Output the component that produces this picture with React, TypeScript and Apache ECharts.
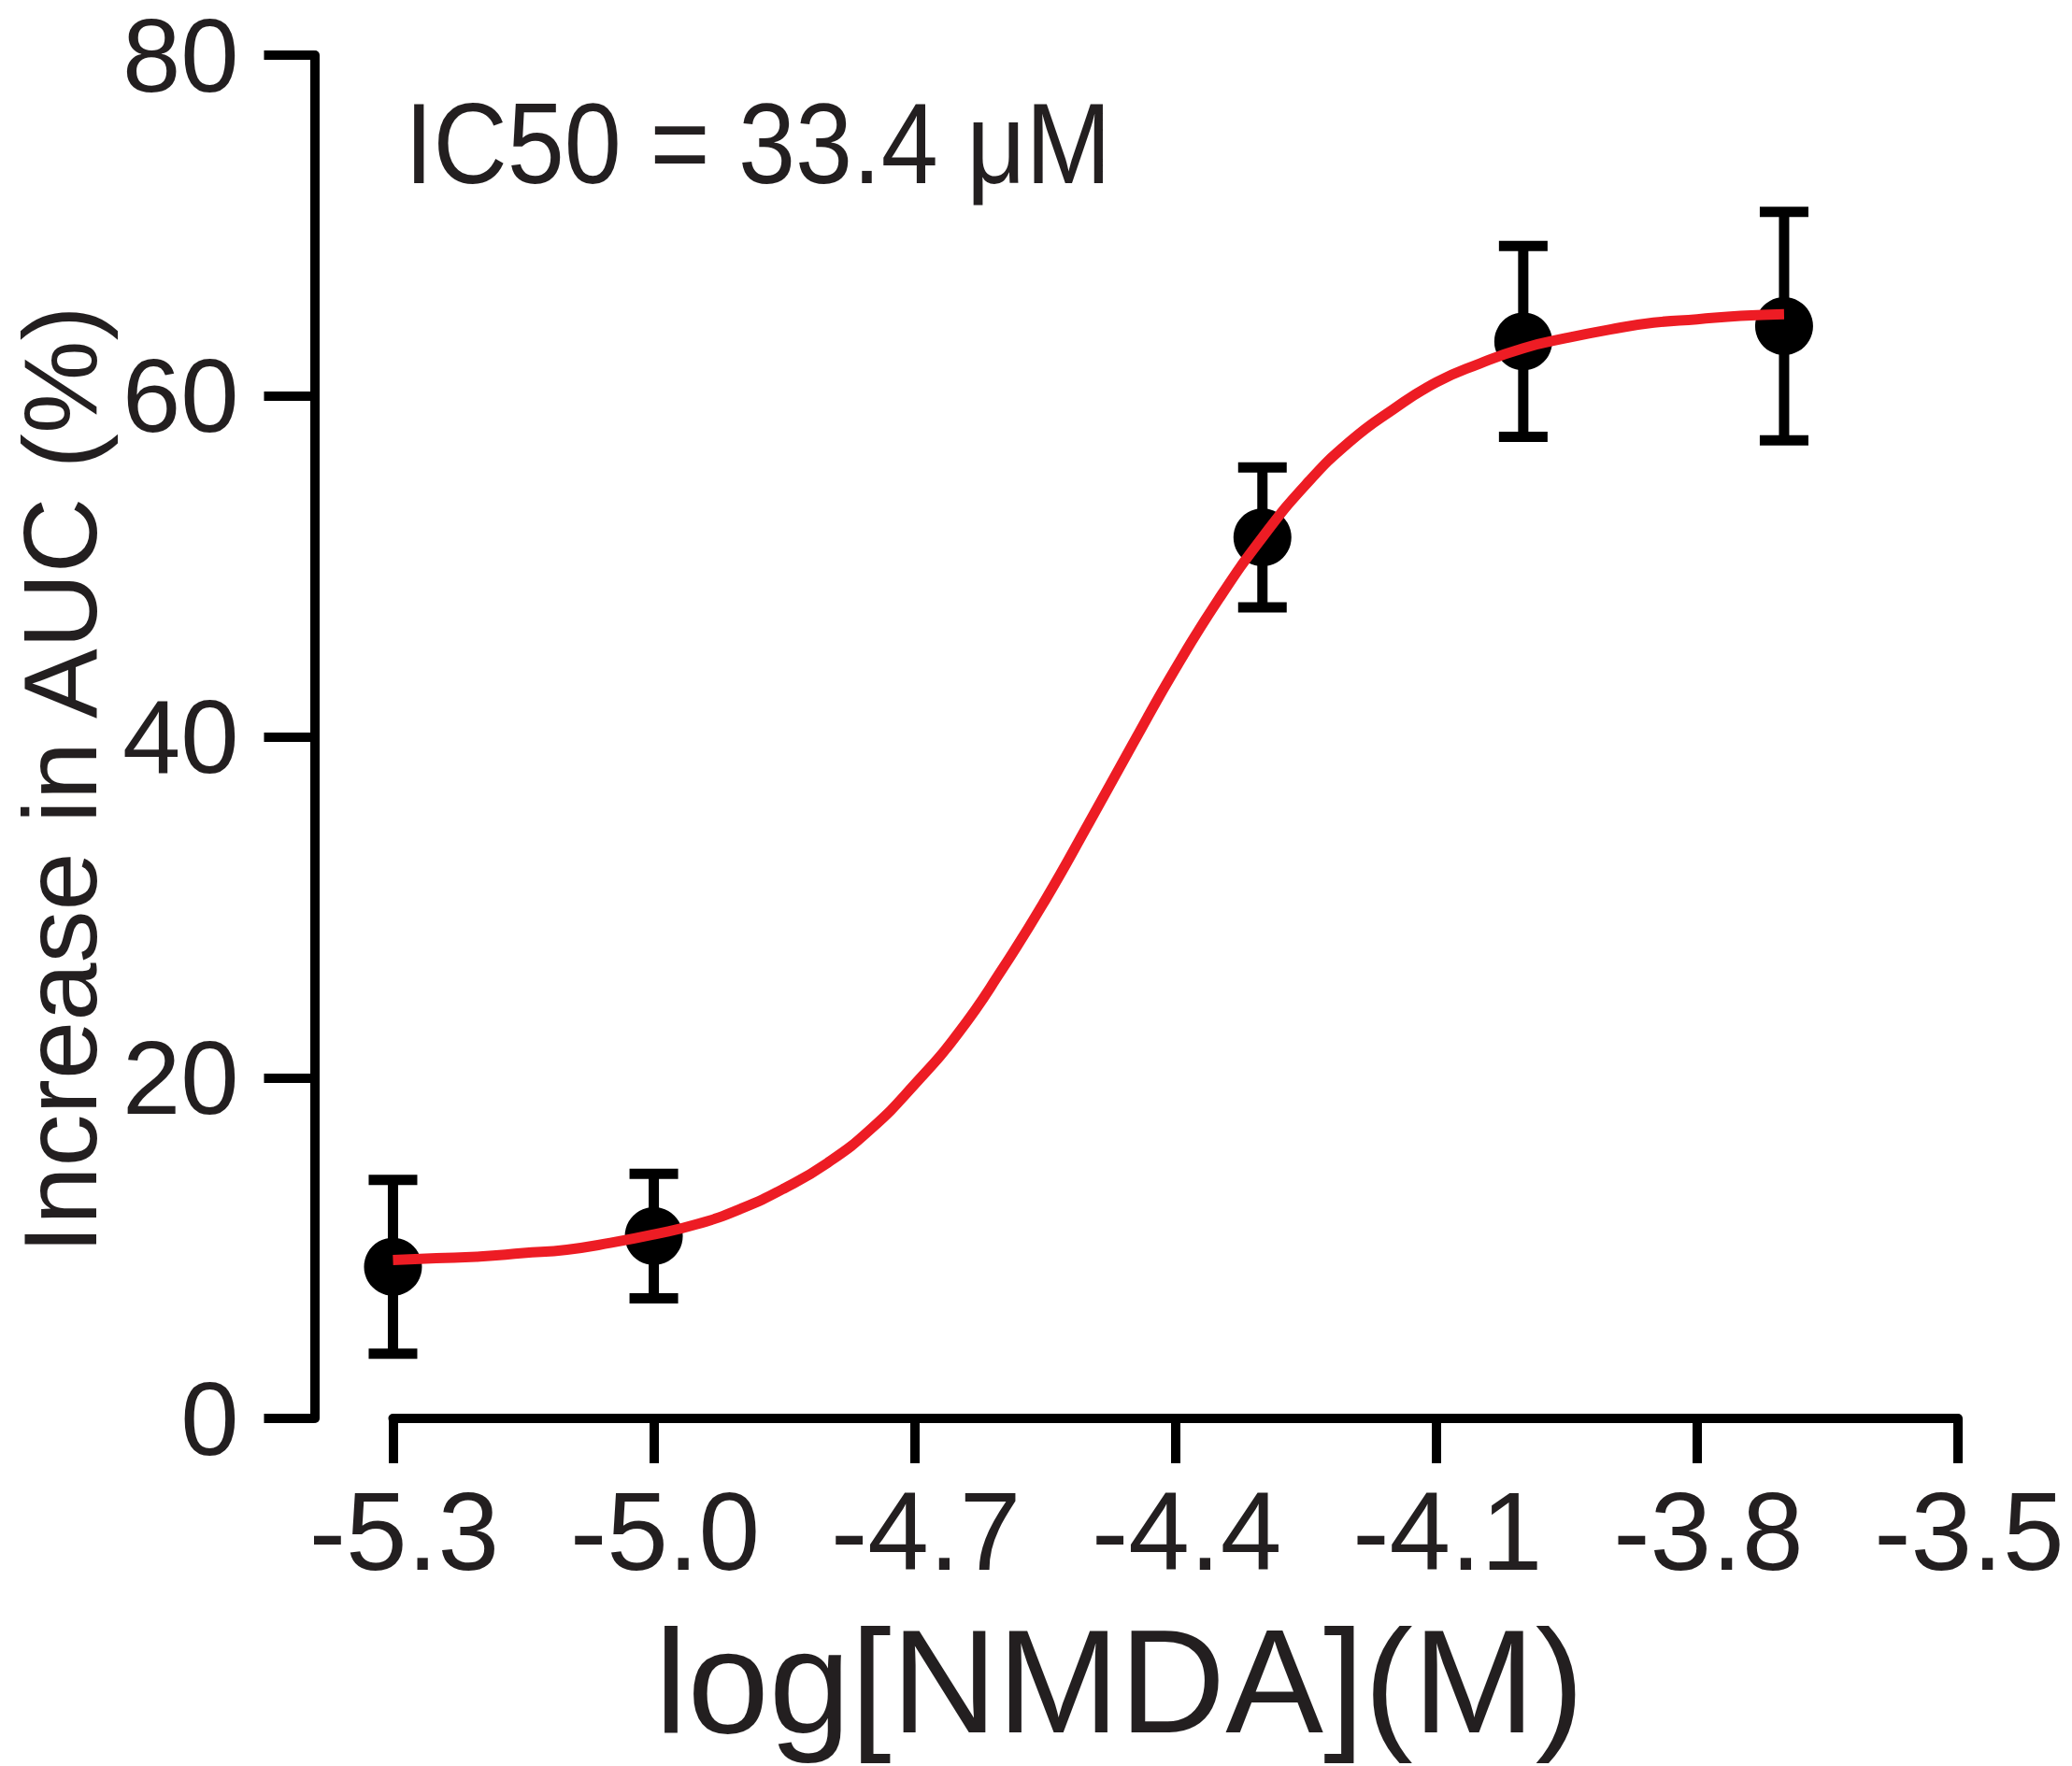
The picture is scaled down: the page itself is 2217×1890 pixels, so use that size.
import React, { useEffect, useRef } from "react";
import * as echarts from "echarts";

// ---- data ----
const xValues = [-5.3, -5.0, -4.3, -4.0, -3.7];
const meanValues = [8.9, 10.7, 51.7, 63.2, 64.1];
const semValues = [5.1, 3.65, 4.1, 5.6, 6.7];

// fitted curve
const curveX = [
  -5.3, -5.25, -5.2, -5.15, -5.1, -5.05, -5.0, -4.95, -4.9, -4.85, -4.8, -4.75, -4.7, -4.65, -4.6, -4.55,
  -4.5, -4.45, -4.4, -4.35, -4.3, -4.25, -4.2, -4.15, -4.1, -4.05, -4.0, -3.95, -3.9, -3.85, -3.8, -3.75, -3.7,
];
const curveY = [
  9.3, 9.4, 9.5, 9.7, 9.9, 10.3, 10.8, 11.4, 12.3, 13.5, 15.0, 17.0, 19.6, 22.6, 26.3, 30.4,
  34.9, 39.5, 44.0, 48.1, 51.7, 54.8, 57.3, 59.2, 60.8, 61.9, 62.8, 63.4, 63.9, 64.3, 64.5, 64.7, 64.8,
];

const xTickLabels = ["-5.3", "-5.0", "-4.7", "-4.4", "-4.1", "-3.8", "-3.5"];
const yTickLabels = ["0", "20", "40", "60", "80"];

const xAxisTitle = "log[NMDA](M)";
const yAxisTitle = "Increase in AUC (%)";
const annotation = "IC50 = 33.4 μM";

const FONT = "'Liberation Sans', Arial, Helvetica, sans-serif";
const TEXT = "#231F20";

export default function App() {
  const ref = useRef<HTMLDivElement>(null);

  useEffect(() => {
    document.body.style.margin = "0";
    if (!ref.current) return;
    const chart = echarts.init(ref.current, null, { renderer: "svg" });

    const errData = xValues.map((x, i) => [x, meanValues[i], semValues[i]]);
    const ptData = xValues.map((x, i) => [x, meanValues[i]]);
    const lineData = curveX.map((x, i) => [x, curveY[i]]);

    const option: any = {
      animation: false,
      backgroundColor: "#ffffff",
      grid: { left: 418, right: 122, top: 52, bottom: 372, containLabel: false },
      xAxis: {
        type: "value",
        min: -5.3,
        max: -3.5,
        interval: 0.3,
        splitLine: { show: false },
        axisLine: { show: true, onZero: false, lineStyle: { color: "#000", width: 10 } },
        axisTick: { show: true, inside: false, length: 48, lineStyle: { color: "#000", width: 10 } },
        axisLabel: {
          margin: 62,
          color: TEXT,
          fontSize: 118,
          fontFamily: FONT,
          padding: [0, 0, 0, 24],
          formatter: (v: number) => {
            const idx = Math.round((v + 5.3) / 0.3);
            return xTickLabels[idx] ?? v.toFixed(1);
          },
        },
        name: xAxisTitle,
        nameLocation: "middle",
        nameGap: 203,
        nameTextStyle: { color: TEXT, fontSize: 157, fontFamily: FONT, padding: [0, 120, 0, 0] },
      },
      yAxis: {
        type: "value",
        min: 0,
        max: 80,
        interval: 20,
        offset: 84,
        splitLine: { show: false },
        axisLine: { show: true, onZero: false, lineStyle: { color: "#000", width: 10 } },
        axisTick: { show: true, inside: false, length: 54, lineStyle: { color: "#000", width: 10 } },
        axisLabel: {
          margin: 81,
          color: TEXT,
          fontSize: 112,
          lineHeight: 100,
          fontFamily: FONT,
          padding: [18, 0, 0, 0],
          formatter: (v: number) => {
            const idx = Math.round(v / 20);
            return yTickLabels[idx] ?? String(v);
          },
        },
        name: yAxisTitle,
        nameLocation: "middle",
        nameGap: 215,
        nameRotate: 90,
        nameTextStyle: { color: TEXT, fontSize: 112, fontFamily: FONT, padding: [0, 92, 0, 0] },
      },
      graphic: [
        {
          type: "text",
          x: 433,
          y: 154,
          scaleX: 0.9,
          z: 10,
          style: {
            text: annotation,
            fill: TEXT,
            fontSize: 122,
            fontFamily: FONT,
            align: "left",
            verticalAlign: "middle",
          },
        },
      ],
      series: [
        {
          type: "custom",
          z: 2,
          data: errData,
          encode: { x: 0, y: 1 },
          renderItem: (params: any, api: any) => {
            const x = api.value(0);
            const m = api.value(1);
            const e = api.value(2);
            const top = api.coord([x, m + e]);
            const bot = api.coord([x, m - e]);
            const hw = 26;
            const style = { stroke: "#000", lineWidth: 11 };
            return {
              type: "group",
              children: [
                { type: "line", shape: { x1: top[0], y1: top[1], x2: bot[0], y2: bot[1] }, style },
                { type: "line", shape: { x1: top[0] - hw, y1: top[1], x2: top[0] + hw, y2: top[1] }, style },
                { type: "line", shape: { x1: bot[0] - hw, y1: bot[1], x2: bot[0] + hw, y2: bot[1] }, style },
              ],
            };
          },
        },
        {
          type: "scatter",
          z: 3,
          data: ptData,
          symbol: "circle",
          symbolSize: 62,
          itemStyle: { color: "#000", opacity: 1 },
        },
        {
          type: "line",
          z: 4,
          data: lineData,
          smooth: 0.5,
          showSymbol: false,
          symbol: "none",
          lineStyle: { color: "#ED1C24", width: 11 },
        },
      ],
    };

    chart.setOption(option);
    return () => chart.dispose();
  }, []);

  return <div ref={ref} style={{ width: 2217, height: 1890 }} />;
}
